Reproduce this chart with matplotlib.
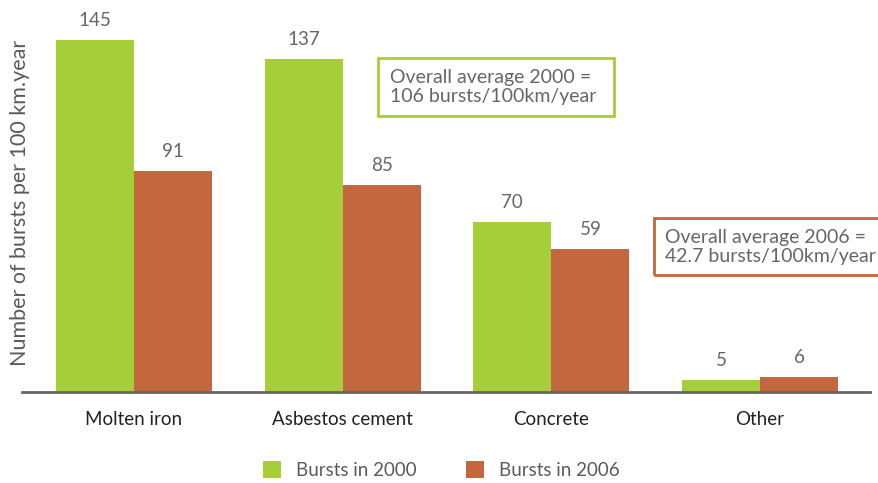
import matplotlib.pyplot as plt
import numpy as np
from matplotlib.patches import Rectangle

categories = ["Molten iron", "Asbestos cement", "Concrete", "Other"]
bursts_2000 = [145, 137, 70, 5]
bursts_2006 = [91, 85, 59, 6]
series_labels = ["Bursts in 2000", "Bursts in 2006"]
note_2000 = "Overall average 2000 =\n106 bursts/100km/year"
note_2006 = "Overall average 2006 =\n42.7 bursts/100km/year"

GREEN = "#a6ce39"
RUST = "#c4663e"
GREY = "#5a5a5a"

plt.rcParams["font.family"] = ["Lato", "DejaVu Sans"]

fig = plt.figure(figsize=(8.79, 4.83), dpi=100)
ax = fig.add_axes([22 / 879, 91 / 483, 848 / 879, (392 - 27.5) / 483])

x = np.arange(len(categories))
w = 0.374
b1 = ax.bar(x - w / 2, bursts_2000, w, color=GREEN, label=series_labels[0])
b2 = ax.bar(x + w / 2, bursts_2006, w, color=RUST, label=series_labels[1])

for bars in (b1, b2):
    for bar in bars:
        ax.annotate(f"{bar.get_height():g}",
                    (bar.get_x() + bar.get_width() / 2, bar.get_height()),
                    xytext=(0, 8), textcoords="offset points",
                    ha="center", va="bottom", fontsize=13.5, color="#666666")

ax.set_xlim(-0.537, 3.527)
ax.set_ylim(0, 150)
ax.set_xticks(x)
ax.set_xticklabels(categories, fontsize=13.5, color="#222222")
ax.tick_params(axis="x", length=0, pad=14)
ax.set_yticks([])
for side in ("top", "right", "left"):
    ax.spines[side].set_visible(False)
ax.spines["bottom"].set_color("#666666")
ax.spines["bottom"].set_linewidth(2)

fig.text(20 / 879, 1 - 203 / 483, "Number of bursts per 100 km.year",
         rotation=90, ha="center", va="center", fontsize=15.5, color=GREY)

# annotation boxes
fig.patches.append(Rectangle((378 / 879, 1 - 116 / 483), 236 / 879, 58 / 483,
                             transform=fig.transFigure, fill=False,
                             edgecolor=GREEN, linewidth=2))
fig.text(390 / 879, 1 - 87 / 483, note_2000, ha="left", va="center",
         fontsize=14, color="#666666", linespacing=1.15)
fig.patches.append(Rectangle((654 / 879, 1 - 275 / 483), 240 / 879, 57 / 483,
                             transform=fig.transFigure, fill=False,
                             edgecolor=RUST, linewidth=2))
fig.text(665 / 879, 1 - 247 / 483, note_2006, ha="left", va="center",
         fontsize=14, color="#666666", linespacing=1.15)

fig.legend(loc="center", bbox_to_anchor=(0.502, 1 - 470 / 483), ncol=2,
           frameon=False, handlelength=1.0, handleheight=1.0,
           handletextpad=0.8, columnspacing=2.6, labelcolor=GREY,
           prop={"size": 13.5})

fig.savefig("out.png", dpi=100)
